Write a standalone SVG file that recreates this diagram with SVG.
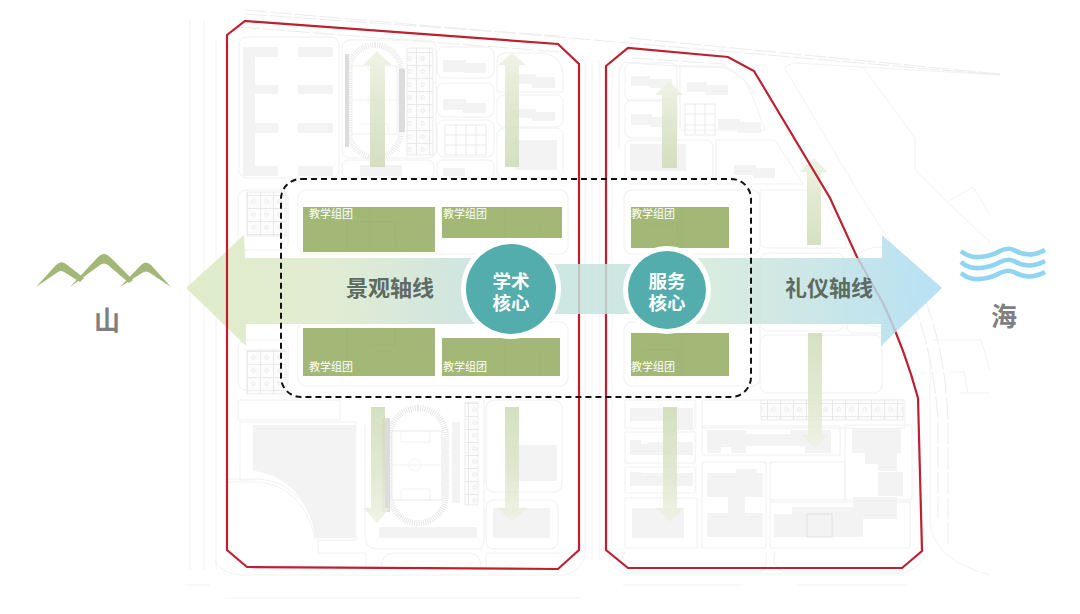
<svg xmlns="http://www.w3.org/2000/svg" width="1080" height="614" viewBox="0 0 1080 614">
<style>
.b{fill:#f3f3f3}
.d{fill:#dcdcdc}
.r{fill:none;stroke:#f0f0f0;stroke-width:1}
.l{fill:none;stroke:#efefef;stroke-width:.8}
.n{fill:none;stroke:#ececec;stroke-width:1;stroke-dasharray:22 3}
.g{fill:url(#cells);stroke:#e8e8e8;stroke-width:.8}
.red{fill:none;stroke:#bd2030;stroke-width:2.2}
.t{fill:#a3b877}
.s{fill:none;stroke:#98ad6e;stroke-width:.7;opacity:.5}
.tt{font:11px "Liberation Sans","Noto Sans CJK SC",sans-serif;fill:#fff}
.c{font:bold 18.5px "Noto Sans CJK SC",sans-serif;fill:#fff;text-anchor:middle}
.ax{font:bold 22px "Noto Sans CJK SC",sans-serif;fill:#5e6b63;text-anchor:middle}
.pl{font:bold 26px "Noto Sans CJK SC",sans-serif;fill:#808080;text-anchor:middle}
.w{fill:none;stroke:#8fd4f1;stroke-width:4.5}
</style>
<defs>
<pattern id="cells" width="13" height="13" patternUnits="userSpaceOnUse"><rect width="13" height="13" fill="#fcfcfc"/><path d="M0 .5H13M.5 0V13" stroke="#e4e4e4" stroke-width=".8"/><circle cx="6.5" cy="6.5" r="1.8" fill="none" stroke="#e6e6e6" stroke-width=".8"/></pattern>
<linearGradient id="up" x1="0" y1="0" x2="0" y2="1"><stop offset="0" stop-color="#eef2e3"/><stop offset=".45" stop-color="#dde5ca"/><stop offset="1" stop-color="#cfdbb6"/></linearGradient>
<linearGradient id="down" x1="0" y1="0" x2="0" y2="1"><stop offset="0" stop-color="#cfdbb6"/><stop offset=".55" stop-color="#dde5ca"/><stop offset="1" stop-color="#eef2e3"/></linearGradient>
<linearGradient id="ax1" gradientUnits="userSpaceOnUse" x1="186" y1="0" x2="480" y2="0"><stop offset="0" stop-color="#dcebc6"/><stop offset=".45" stop-color="#e0ebcd"/><stop offset="1" stop-color="#cbe3e0"/></linearGradient>
<linearGradient id="ax2" gradientUnits="userSpaceOnUse" x1="690" y1="0" x2="942" y2="0"><stop offset="0" stop-color="#d6ead9"/><stop offset=".45" stop-color="#c4e3e2"/><stop offset="1" stop-color="#abdcf3"/></linearGradient>
</defs>

<g id="plan">
<path class="n" d="M245 10 L1000 75M245 14 L560 36M630 38 L1000 74"/>
<path class="n" d="M238 27 L560 52M632 58 L725 64"/>
<path class="l" d="M190 20V570M204 20V570M216 40V570M585 60V560M592 60V560M599 60V560M612 70V545"/>
<path class="l" d="M185 585H210M225 598H580M623 585H743M797 585H907M930 360V520Q932 560 990 575"/>
<path class="l" d="M215 560Q218 572 240 575H565Q582 570 585 555M608 555Q615 572 630 574H900Q918 570 925 555"/>
<path class="n" d="M925 300Q945 350 948 420V545M912 300Q933 350 938 420V520"/>
<rect class="r" x="239" y="37" width="100" height="141" rx="8"/>
<rect class="r" x="342" y="40" width="94" height="118" rx="8"/>
<rect class="r" x="342" y="160" width="92" height="18" rx="6"/>
<rect class="r" x="437" y="47" width="57" height="31" rx="7"/>
<rect class="r" x="437" y="83" width="57" height="34" rx="7"/>
<rect class="r" x="437" y="120" width="57" height="37" rx="7"/>
<rect class="r" x="437" y="160" width="57" height="18" rx="6"/>
<path class="r" d="M497 92V62Q497 53 506 53H545Q563 58 563 75V92Z"/>
<rect class="r" x="497" y="95" width="66" height="32" rx="7"/>
<rect class="r" x="497" y="128" width="66" height="50" rx="7"/>
<rect class="r" x="238" y="190" width="50" height="60" rx="8"/>
<rect class="r" x="238" y="340" width="50" height="50" rx="8"/>
<rect class="r" x="298" y="190" width="270" height="64" rx="8"/>
<rect class="r" x="298" y="322" width="270" height="64" rx="8"/>
<path class="l" d="M298 270H460M298 312H460M225 270H250V295M225 320H250V300"/>
<path class="r" d="M238 400H340V420H238ZM240 422H356V540H318V555M240 422V480H255"/>
<path class="r" d="M365 425V538Q366 548 376 549H480Q484 548 484 538V400"/>
<rect class="r" x="486" y="400" width="76" height="92" rx="8"/>
<rect class="r" x="486" y="500" width="72" height="49" rx="8"/>
<path class="r" d="M318 553H366V570M382 570Q380 554 392 553H470Q482 554 481 570M486 570V553H560"/>
<path class="b" d="M243 47H278V57H255V85H278V94H255V123H278V133H255V166H278V176H243Z"/>
<path class="b" d="M298 47H333V57H298ZM298 85H333V94H298ZM298 123H333V133H298ZM298 166H333V176H298Z"/>
<path class="b" d="M443 60H466V63H486V73H463V72H443ZM443 99H466V103H486V113H463V110H443Z"/>
<path class="b" d="M512 74H536V77H555V88H532V84H512ZM512 109H536V112H555V121H532V118H512Z"/>
<rect class="b" x="515" y="140" width="42" height="30"/>
<rect class="b" x="360" y="165" width="42" height="11"/>
<rect class="b" x="443" y="168" width="22" height="8"/>
<path d="M445 125V155M456 125V155M466 125V155M476 125V155M486 125V155M445 135H486M445 145H486M445 155H486M445 125H486" fill="none" stroke="#e6e6e6" stroke-width=".8"/>
<rect class="g" x="407" y="48" width="26" height="107"/>
<rect class="g" x="247" y="192" width="39" height="44"/>
<rect class="g" x="247" y="350" width="39" height="44"/>
<rect x="349" y="45" width="52" height="112" rx="26" fill="none" stroke="#eaeaea" stroke-width="6" stroke-dasharray="1 1.2"/>
<rect x="352" y="66" width="45" height="68" fill="#fff" stroke="#ececec" stroke-width=".8"/>
<path class="l" d="M352 100H397M360 124H388V134M368 66V70H380V66"/>
<circle class="l" cx="374" cy="100" r="6"/>
<rect class="d" x="345" y="54" width="4" height="93"/>
<rect class="d" x="399" y="69" width="6" height="63"/>
<path class="b" d="M253 425H355V538H315C312 505 290 475 253 471Z"/>
<path class="l" d="M225 482H258C290 484 310 510 315 540M225 479H258C292 481 313 508 318 540"/>
<rect class="b" x="379" y="527" width="98" height="11"/>
<rect x="390" y="408" width="56" height="115" rx="28" fill="none" stroke="#e6e6e6" stroke-width="6" stroke-dasharray="1 1.2"/>
<rect x="392" y="431" width="50" height="69" fill="#fff" stroke="#e4e4e4" stroke-width=".8"/>
<path class="l" d="M392 465H442M401 431V442H430V431M401 500V489H430V500"/>
<circle class="l" cx="415" cy="465" r="6"/>
<rect class="d" x="382" y="418" width="8" height="94"/>
<rect class="b" x="441" y="436" width="6" height="59"/>
<rect class="b" x="452" y="422" width="8" height="81"/>
<rect class="g" x="465" y="402" width="13" height="103"/>
<rect class="b" x="507" y="445" width="50" height="36"/>
<rect class="b" x="493" y="508" width="57" height="30"/>
<path class="r" d="M625 62Q630 64 725 68Q748 78 755 95"/>
<path class="r" d="M625 62Q619 65 619 76V150"/>
<rect class="r" x="625" y="63" width="52" height="38" rx="7"/>
<rect class="r" x="625" y="100" width="52" height="38" rx="7"/>
<rect class="r" x="625" y="140" width="88" height="44" rx="7"/>
<path class="r" d="M680 66H725Q745 75 752 95L765 130H680Z"/>
<path class="r" d="M716 140H775L803 184H716Z"/>
<rect class="r" x="624" y="190" width="136" height="64" rx="8"/>
<rect class="r" x="624" y="322" width="136" height="64" rx="8"/>
<path class="r" d="M760 190H820L846 240V248H770Q760 248 760 240Z"/>
<rect class="r" x="760" y="253" width="84" height="78" rx="8"/>
<rect class="r" x="760" y="335" width="122" height="58" rx="8"/>
<rect class="r" x="847" y="300" width="40" height="33" rx="6"/>
<path class="r" d="M625 400H695V428H625ZM625 432H695V463H625ZM625 467H695V493H625ZM625 498H697V548H625ZM702 400H905V428H702ZM702 426H840V455H702ZM702 462H766V548H702ZM770 462H845V500H770ZM770 502H910V548H770ZM845 425H912V500H845Z"/>
<path class="r" d="M625 552Q616 565 628 572H760Q768 570 766 552M775 552Q770 568 785 572H900"/>
<path class="l" d="M787 72Q780 66 795 63L1000 75M787 72L857 190L892 245M863 67L915 138V170L947 202L973 187L990 215M947 202L990 242M933 340H981L990 370M950 372H964L968 393M960 393H990"/>
<circle class="l" cx="880" cy="287" r="40"/>
<circle class="l" cx="880" cy="287" r="26"/>
<path class="b" d="M631 76H650V79H672V88H650V86H631ZM687 82H707V85H728V95H705V92H687ZM631 114H652V117H672V127H650V125H631ZM718 119H740V122H761V133H738V129H718ZM734 165H756V168H775V178H753V175H734Z"/>
<rect class="b" x="630" y="144" width="56" height="27"/>
<path d="M685 104H715M685 114H715M685 125H715M685 135H715M685 104V135M695 104V135M705 104V135M715 104V135" fill="none" stroke="#e6e6e6" stroke-width=".8"/>
<rect class="g" x="761" y="400" width="142" height="20"/>
<path class="b" d="M630 408H693V430H675V421H630Z"/>
<path class="b" d="M630 440H641V444H648V442H693V455H630ZM630 472H641V473H693V486H630Z"/>
<rect class="b" x="632" y="508" width="52" height="30"/>
<path class="b" d="M707 430H746V434H791V430H831V453H805V446H746V453H731V447H721V453H707Z"/>
<path class="b" d="M852 428H901V453H897V471H878V464H865V453H852ZM878 472H903V496H878ZM853 497H897V519H853ZM792 507H853V519H863V537H774V514H792Z"/>
<path class="b" d="M736 469H757V473H763V497H745V513H763V537H707V513H717V497H707V473H736Z"/>
<rect x="717" y="497" width="11" height="16" fill="#fff"/>
<rect x="807" y="514" width="25" height="23" fill="none" stroke="#e2e2e2" stroke-width="1"/>
</g>

<g id="connectors">
<g opacity=".85">
<path id="arrow-n1" d="M370 167V65H363L377 51L392 65H385V167Z" fill="url(#up)"/>
<path id="arrow-n2" d="M505 167V65H498L512 53L526 65H519V167Z" fill="url(#up)"/>
<path id="arrow-n3" d="M662 168V95H655L669 81L683 95H677V168Z" fill="url(#up)"/>
<path id="arrow-n4" d="M807 245V172H800L814 158L828 172H821V245Z" fill="url(#up)"/>
<path id="arrow-s1" d="M371 407V508H364L377 523L390 508H385V407Z" fill="url(#down)"/>
<path id="arrow-s2" d="M505 407V508H498L512 522L527 508H519V407Z" fill="url(#down)"/>
<path id="arrow-s3" d="M663 407V508H656L670 522L684 508H677V407Z" fill="url(#down)"/>
<path id="arrow-s4" d="M808 333V435H802L815 449L828 435H822V333Z" fill="url(#down)"/>
</g>
<path id="axis-west" d="M186 288L244 235L245 258H480V324H246V346Z" fill="url(#ax1)" opacity=".92"/>
</g>

<g id="boundary">
<path class="red" d="M227 35L245 21L558 44L579 64V550L558 569L247 567L227 550Z"/>
<path class="red" d="M606 66L628 48L728 57L754 71L830 198L857 257L883 303Q905 350 918 398L922 551L902 568H628L606 550Z"/>
</g>

<g id="connectors-2" opacity=".85">
<rect id="axis-mid" x="550" y="264" width="85" height="50" fill="#c6e3de"/>
<path id="axis-east" d="M690 258H882V235L942 288L881 346V324H690Z" fill="url(#ax2)"/>
</g>

<g id="groups">
<g id="group-1"><rect class="t" x="303" y="207" width="132" height="45"/><path class="s" d="M347 222V252M347 222H395V245M370 207V252"/><text class="tt" x="309" y="218">教学组团</text></g>
<g id="group-2"><rect class="t" x="442" y="207" width="120" height="31"/><path class="s" d="M505 207V238M540 222V238"/><text class="tt" x="443" y="218">教学组团</text></g>
<g id="group-3"><rect class="t" x="631" y="207" width="98" height="41"/><path class="s" d="M642 224H678V248M682 207V248"/><text class="tt" x="631" y="218">教学组团</text></g>
<g id="group-4"><rect class="t" x="303" y="328" width="132" height="48"/><path class="s" d="M347 328V376M395 328V345H370"/><text class="tt" x="309" y="371">教学组团</text></g>
<g id="group-5"><rect class="t" x="442" y="338" width="118" height="38"/><path class="s" d="M505 338V376M540 350V376"/><text class="tt" x="443" y="371">教学组团</text></g>
<g id="group-6"><rect class="t" x="631" y="333" width="98" height="43"/><path class="s" d="M642 350H678V376M682 333V376"/><text class="tt" x="631" y="371">教学组团</text></g>
</g>

<rect id="core-zone" x="281" y="179" width="470" height="218" rx="20" fill="none" stroke="#111" stroke-width="2" stroke-dasharray="6 4"/>

<text class="ax" x="390" y="296">景观轴线</text>
<text class="ax" x="829" y="296">礼仪轴线</text>

<g id="core-academic">
<circle cx="511" cy="289" r="50" fill="#fff"/>
<circle cx="511" cy="289" r="45" fill="#52adac"/>
<text class="c"><tspan x="511" y="288">学术</tspan><tspan x="511" y="310">核心</tspan></text>
</g>
<g id="core-service">
<circle cx="667" cy="290" r="44" fill="#fff"/>
<circle cx="667" cy="290" r="39" fill="#52adac"/>
<text class="c"><tspan x="667" y="288">服务</tspan><tspan x="667" y="310">核心</tspan></text>
</g>

<g id="mountain">
<path d="M36 287L56 265Q61 260 66 264L84 278L80 282L64 272Q61 270 58 272ZM70 287L98 257Q104 251 110 257L133 280L129 283L108 265Q104 262 100 265ZM120 287L141 265Q146 260 151 265L171 287L150 273Q146 270 142 273Z" fill="#a3b877"/>
<text class="pl" x="107" y="330">山</text>
</g>
<g id="sea">
<path class="w" d="M961 251Q969 258 980 257Q992 256 1000 251Q1008 247 1014 250Q1024 256 1034 254Q1040 253 1045 250"/>
<path class="w" d="M961 262Q969 269 980 268Q992 267 1000 262Q1008 258 1014 261Q1024 267 1034 265Q1040 264 1045 261"/>
<path class="w" d="M961 273Q969 280 980 279Q992 278 1000 273Q1008 269 1014 272Q1024 278 1034 276Q1040 275 1045 272"/>
<text class="pl" x="1004" y="326">海</text>
</g>
</svg>
